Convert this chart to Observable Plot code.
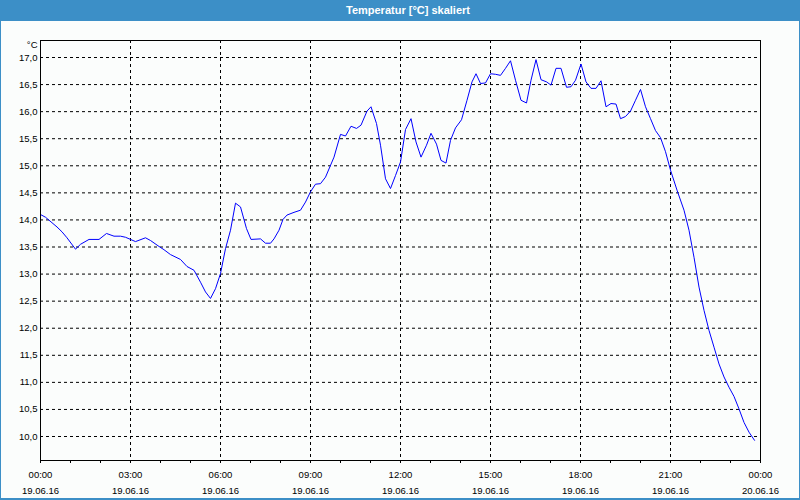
<!DOCTYPE html>
<html>
<head>
<meta charset="utf-8">
<script src="https://cdn.jsdelivr.net/npm/d3@7"></script>
<script src="https://cdn.jsdelivr.net/npm/@observablehq/plot@0.6"></script>
<style>
html, body { margin: 0; padding: 0; }
body { width: 800px; height: 500px; overflow: hidden; background: #fbfdfc; font-family: "Liberation Sans", Arial, sans-serif; }
#wrap { position: relative; width: 800px; height: 500px; }
#title { position: absolute; left: 0; top: 0; width: 800px; height: 21px; background: #3c8fc7; color: #fff; font-weight: bold; font-size: 11px; line-height: 20px; text-align: center; box-sizing: border-box; padding-left: 16px; }
#chart { position: absolute; left: 0; top: 21px; }
#border { position: absolute; left: 0; top: 0; width: 800px; height: 500px; box-sizing: border-box; border: 1px solid #3c8fc7; border-bottom-width: 2px; pointer-events: none; }
</style>
</head>
<body>
<div id="wrap">
  <div id="title">Temperatur [°C] skaliert</div>
  <div id="chart"></div>
  <div id="border"></div>
</div>
<script>
// Minutes after 00:00 on 19.06.16
const minutes = [
  0, 10, 33, 43, 53, 70, 80, 97, 117, 132, 147, 160, 170, 180, 190, 210, 220, 237, 247, 260,
  280, 293, 307, 320, 330, 340, 350, 360, 370, 380, 390, 400, 412, 421, 440, 450, 460, 467, 477, 485,
  493, 507, 520, 530, 540, 550, 560, 570, 587, 600, 610, 621, 632, 641, 653, 661, 672, 680, 690, 700,
  710, 720, 730, 741, 751, 761, 772, 781, 792, 801, 811, 820, 830, 842, 853, 863, 871, 880, 890, 900,
  910, 920, 930, 940, 950, 961, 972, 981, 991, 1001, 1012, 1021, 1031, 1041, 1052, 1061, 1070, 1081, 1091, 1101,
  1111, 1121, 1131, 1141, 1151, 1160, 1170, 1180, 1190, 1200, 1210, 1220, 1230, 1240, 1250, 1260, 1273, 1287, 1297, 1307,
  1317, 1327, 1337, 1347, 1357, 1367, 1377, 1387, 1397, 1407, 1417, 1428
];
// Temperature in °C
const temps = [
  14.10, 14.05, 13.87, 13.78, 13.67, 13.46, 13.55, 13.64, 13.64, 13.75, 13.70, 13.70, 13.68, 13.64, 13.60, 13.67, 13.62, 13.51, 13.45, 13.36,
  13.27, 13.14, 13.07, 12.85, 12.67, 12.55, 12.73, 13.01, 13.47, 13.81, 14.31, 14.24, 13.84, 13.64, 13.65, 13.57, 13.57, 13.65, 13.81, 14.01,
  14.09, 14.14, 14.18, 14.33, 14.52, 14.66, 14.67, 14.79, 15.16, 15.58, 15.55, 15.73, 15.69, 15.75, 16.01, 16.09, 15.78, 15.38, 14.76, 14.58,
  14.82, 15.07, 15.67, 15.87, 15.44, 15.16, 15.38, 15.60, 15.40, 15.10, 15.05, 15.47, 15.70, 15.85, 16.21, 16.55, 16.70, 16.52, 16.53, 16.70,
  16.69, 16.67, 16.80, 16.94, 16.58, 16.21, 16.16, 16.58, 16.96, 16.59, 16.55, 16.49, 16.80, 16.80, 16.45, 16.46, 16.58, 16.88, 16.55, 16.43,
  16.43, 16.57, 16.09, 16.15, 16.14, 15.87, 15.91, 16.01, 16.21, 16.41, 16.09, 15.87, 15.65, 15.52, 15.26, 14.92, 14.55, 14.18, 13.81, 13.31,
  12.76, 12.33, 11.96, 11.65, 11.34, 11.10, 10.91, 10.74, 10.51, 10.26, 10.08, 9.93
];
const yTicks = [10.0, 10.5, 11.0, 11.5, 12.0, 12.5, 13.0, 13.5, 14.0, 14.5, 15.0, 15.5, 16.0, 16.5, 17.0];
const xTickHours = [0, 3, 6, 9, 12, 15, 18, 21, 24];
const gridHours = [3, 6, 9, 12, 15, 18, 21];
const yDomain = [9.557, 17.314];
const unitLabel = "°C";

const t0 = Date.UTC(2016, 5, 19, 0, 0);
const toDate = m => new Date(t0 + m * 60000);
const data = minutes.map((m, i) => ({time: toDate(m), temp: temps[i]}));
const hourDates = d3.range(0, 25).map(h => toDate(h * 60));
const labelDates = xTickHours.map(h => toDate(h * 60));
const gridDates = gridHours.map(h => toDate(h * 60));
const pad2 = n => String(n).padStart(2, "0");
const fmtX = d => `${pad2(d.getUTCHours())}:${pad2(d.getUTCMinutes())}\n${pad2(d.getUTCDate())}.${pad2(d.getUTCMonth() + 1)}.${String(d.getUTCFullYear()).slice(2)}`;

const chart = Plot.plot({
  width: 800,
  height: 479,
  marginTop: 19,
  marginBottom: 40,
  marginLeft: 40,
  marginRight: 40,
  style: {background: "transparent", fontFamily: "'Liberation Sans', Arial, sans-serif", fontSize: "9.5px", color: "#000"},
  x: {type: "utc", domain: [toDate(0), toDate(24 * 60)]},
  y: {domain: yDomain},
  marks: [
    Plot.ruleY(yTicks, {y: d => d, stroke: "#000", strokeWidth: 1, strokeDasharray: "3,3", strokeOpacity: 1}),
    Plot.ruleX(gridDates, {x: d => d, stroke: "#000", strokeWidth: 1, strokeDasharray: "3,3", strokeOpacity: 1}),
    Plot.line(data, {x: "time", y: "temp", stroke: "#0000ff", strokeWidth: 1}),
    Plot.frame({stroke: "#000", strokeWidth: 1}),
    Plot.axisY({ticks: yTicks, tickSize: 0, tickPadding: 3, tickFormat: d => d.toFixed(1).replace(".", ","), label: null, fontSize: 9.5}),
    Plot.axisX({ticks: hourDates, tickSize: 3, tickFormat: () => "", label: null, strokeOpacity: 1}),
    Plot.axisX({ticks: labelDates, tickSize: 0, tickPadding: 6, tickFormat: fmtX, lineHeight: 1.72, label: null, fontSize: 9.5}),
    Plot.text([unitLabel], {frameAnchor: "top-left", text: d => d, textAnchor: "end", lineAnchor: "middle", dx: -3, dy: 4, fontSize: 9.5})
  ]
});
document.getElementById("chart").appendChild(chart);
</script>
</body>
</html>
